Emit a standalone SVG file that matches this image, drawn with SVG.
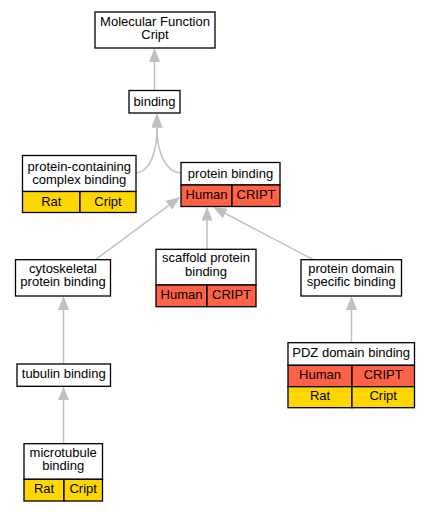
<svg xmlns="http://www.w3.org/2000/svg" width="429" height="512" viewBox="0 0 429 512">
<style>
text{font-family:"Liberation Sans",Arial,sans-serif;font-size:13px;text-anchor:middle;fill:#000}
.n{fill:#fff;stroke:#000;stroke-width:1.3}
.r{fill:#ff6347;stroke:#000;stroke-width:1.3}
.y{fill:#ffd700;stroke:#000;stroke-width:1.3}
.e{fill:none;stroke:#c0c0c0;stroke-width:1.5}
</style>
<defs>
<marker id="a" viewBox="0 0 14 11" refX="0" refY="5.5" markerWidth="14" markerHeight="11" markerUnits="userSpaceOnUse" orient="auto">
<path d="M0,0 L14,5.5 L0,11 Z" fill="#c0c0c0"/>
</marker>
</defs>
<g id="edges">
<path class="e" marker-end="url(#a)" d="M154.5,90 L154.5,62"/>
<path class="e" marker-end="url(#a)" d="M136,173 C150,172 157,152 157,127.5"/>
<path class="e" marker-end="url(#a)" d="M181,173 C165,172 157,152 157,127.5"/>
<path class="e" marker-end="url(#a)" d="M95,260 L168.8,205.3"/>
<path class="e" marker-end="url(#a)" d="M207,249 L207,220.5"/>
<path class="e" marker-end="url(#a)" d="M314,260 L225.4,213.5"/>
<path class="e" marker-end="url(#a)" d="M63.5,364 L63.5,310"/>
<path class="e" marker-end="url(#a)" d="M63.5,443.7 L63.5,400.3"/>
<path class="e" marker-end="url(#a)" d="M351.5,342.7 L351.5,310"/>
</g>
<g id="mf">
<rect class="n" x="95" y="12" width="120" height="36"/>
<text x="155" y="26">Molecular Function</text>
<text x="155" y="39">Cript</text>
</g>
<g id="binding">
<rect class="n" x="129" y="90.5" width="51" height="22.5"/>
<text x="154.5" y="105.5">binding</text>
</g>
<g id="pcc">
<rect class="n" x="22.5" y="155.5" width="113.5" height="36"/>
<rect class="y" x="22.5" y="191.5" width="57.5" height="21"/>
<rect class="y" x="80" y="191.5" width="56" height="21"/>
<text x="79.3" y="171">protein-containing</text>
<text x="79.3" y="184">complex binding</text>
<text x="51.3" y="205.5">Rat</text>
<text x="108" y="205.5">Cript</text>
</g>
<g id="pb">
<rect class="n" x="181" y="162.5" width="99" height="22.5"/>
<rect class="r" x="181" y="185" width="51" height="21.5"/>
<rect class="r" x="232" y="185" width="48" height="21.5"/>
<text x="230.5" y="177.5">protein binding</text>
<text x="206.5" y="199">Human</text>
<text x="256" y="199">CRIPT</text>
</g>
<g id="cyto">
<rect class="n" x="15.5" y="259.7" width="95" height="36.3"/>
<text x="63" y="273.3">cytoskeletal</text>
<text x="63" y="286">protein binding</text>
</g>
<g id="scaffold">
<rect class="n" x="156" y="249.3" width="100" height="35.7"/>
<rect class="r" x="156" y="285" width="51" height="21.7"/>
<rect class="r" x="207" y="285" width="49" height="21.7"/>
<text x="206" y="262.3">scaffold protein</text>
<text x="206" y="276">binding</text>
<text x="181.5" y="298.5">Human</text>
<text x="231.5" y="298.5">CRIPT</text>
</g>
<g id="pdomain">
<rect class="n" x="301" y="259.7" width="100.5" height="36.3"/>
<text x="351.2" y="273.3">protein domain</text>
<text x="351.2" y="286">specific binding</text>
</g>
<g id="tubulin">
<rect class="n" x="17" y="364" width="93.5" height="22.3"/>
<text x="63.7" y="378">tubulin binding</text>
</g>
<g id="micro">
<rect class="n" x="24" y="443.7" width="78.5" height="35.6"/>
<rect class="y" x="24" y="479.3" width="40" height="21.7"/>
<rect class="y" x="64" y="479.3" width="38.5" height="21.7"/>
<text x="63.2" y="457.3">microtubule</text>
<text x="63.2" y="470.3">binding</text>
<text x="44" y="492.5">Rat</text>
<text x="83.2" y="492.5">Cript</text>
</g>
<g id="pdz">
<rect class="n" x="288" y="342.7" width="126.5" height="22.6"/>
<rect class="r" x="288" y="365.3" width="64" height="21.4"/>
<rect class="r" x="352" y="365.3" width="62.5" height="21.4"/>
<rect class="y" x="288" y="386.7" width="64" height="21"/>
<rect class="y" x="352" y="386.7" width="62.5" height="21"/>
<text x="351.2" y="357">PDZ domain binding</text>
<text x="320" y="379">Human</text>
<text x="383.2" y="379">CRIPT</text>
<text x="320" y="400.3">Rat</text>
<text x="383.2" y="400.3">Cript</text>
</g>
</svg>
